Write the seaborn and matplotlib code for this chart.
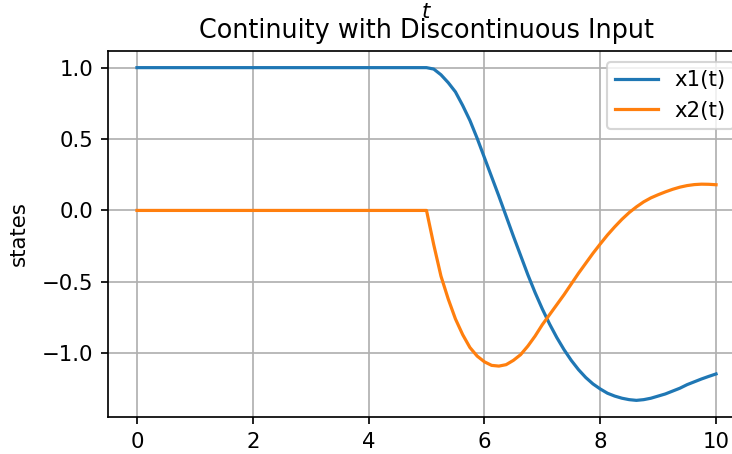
import matplotlib
matplotlib.use("Agg")
import matplotlib.pyplot as plt
import seaborn as sns
import pandas as pd

# Sampled trajectories of the two states
t_values = [0.0, 1.0, 2.0, 3.0, 4.0,
            5.0, 5.125, 5.25, 5.375, 5.5, 5.625, 5.75, 5.875,
            6.0, 6.125, 6.25, 6.375, 6.5, 6.625, 6.75, 6.875,
            7.0, 7.125, 7.25, 7.375, 7.5, 7.625, 7.75, 7.875,
            8.0, 8.125, 8.25, 8.375, 8.5, 8.625, 8.75, 8.875,
            9.0, 9.125, 9.25, 9.375, 9.5, 9.625, 9.75, 9.875,
            10.0]
x1_values = [1.0, 1.0, 1.0, 1.0, 1.0,
             1.0, 0.99, 0.95, 0.895, 0.83, 0.735, 0.63, 0.505,
             0.37, 0.235, 0.10, -0.04, -0.18, -0.315, -0.45, -0.575,
             -0.69, -0.795, -0.89, -0.975, -1.05, -1.115, -1.17, -1.215,
             -1.25, -1.28, -1.30, -1.315, -1.325, -1.33, -1.325, -1.315,
             -1.30, -1.285, -1.265, -1.245, -1.22, -1.20, -1.18, -1.162,
             -1.145]
x2_values = [0.0, 0.0, 0.0, 0.0, 0.0,
             0.0, -0.24, -0.46, -0.62, -0.76, -0.87, -0.96, -1.02,
             -1.06, -1.085, -1.09, -1.08, -1.05, -1.01, -0.95, -0.88,
             -0.80, -0.73, -0.66, -0.59, -0.515, -0.44, -0.37, -0.30,
             -0.235, -0.172, -0.115, -0.062, -0.015, 0.025, 0.06, 0.088,
             0.11, 0.13, 0.148, 0.163, 0.174, 0.181, 0.184, 0.183,
             0.18]
series_labels = ["x1(t)", "x2(t)"]

df = pd.DataFrame({"t": t_values, "x1": x1_values, "x2": x2_values})

DPI = 153
fig = plt.figure(figsize=(732 / DPI, 454 / DPI), dpi=DPI)
ax = fig.add_axes([108 / 732, 37 / 454, 637 / 732, 366 / 454])

palette = sns.color_palette("tab10")
sns.lineplot(data=df, x="t", y="x1", ax=ax, color=palette[0], linewidth=1.5,
             label=series_labels[0])
sns.lineplot(data=df, x="t", y="x2", ax=ax, color=palette[1], linewidth=1.5,
             label=series_labels[1])

ax.grid(True)
ax.set_title("Continuity with Discontinuous Input", y=1.0)
ax.set_xlabel("$t$")
ax.xaxis.set_label_position("top")
ax.xaxis.set_label_coords(0.5, 1.09)
ax.set_ylabel("states")
ax.yaxis.set_label_coords(-0.124, 0.5)
ax.set_xticks([0, 2, 4, 6, 8, 10])
ax.set_yticks([-1.0, -0.5, 0.0, 0.5, 1.0])
ax.legend(loc="upper right")

fig.savefig("out.png", dpi=DPI)
